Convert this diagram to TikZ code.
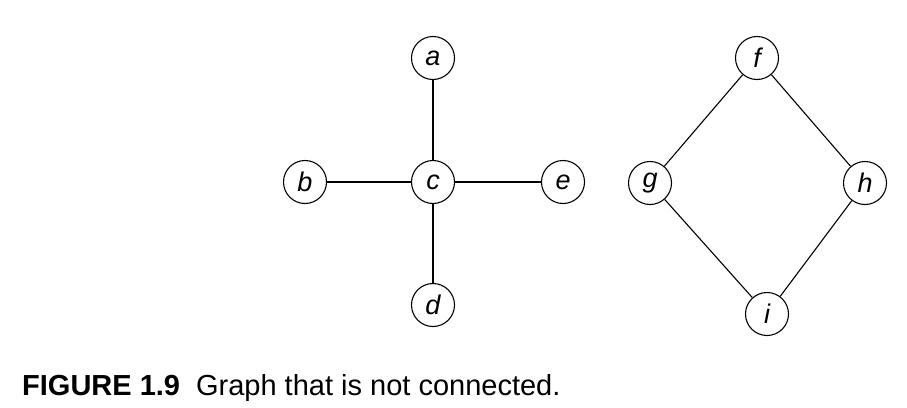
\documentclass[tikz,border=0pt]{standalone}
\usepackage{fontspec}
\setmainfont{Liberation Sans}
\begin{document}
\begin{tikzpicture}[x=1pt,y=-1pt,
  vertex/.style={circle,draw,line width=1.1pt,minimum size=43pt,inner sep=0pt,
    font=\fontsize{27}{27}\selectfont\itshape},
  edge/.style={line width=1.1pt}]
\useasboundingbox (0,0) rectangle (907,407);
\node[vertex] (a) at (433,58) {a};
\node[vertex] (b) at (305,182) {b};
\node[vertex] (c) at (433,182) {c};
\node[vertex] (d) at (433,305) {d};
\node[vertex] (e) at (563,182) {e};
\node[vertex] (f) at (757,58) {f};
\node[vertex] (g) at (650,183) {g};
\node[vertex] (h) at (865,183) {h};
\node[vertex] (i) at (767,314) {i};
\draw[edge] (a) -- (c);
\draw[edge] (b) -- (c);
\draw[edge] (c) -- (e);
\draw[edge] (c) -- (d);
\draw[edge] (f) -- (g);
\draw[edge] (f) -- (h);
\draw[edge] (g) -- (i);
\draw[edge] (h) -- (i);
\node[anchor=base west,inner sep=0pt,font=\fontsize{29}{29}\selectfont] (cap) at (22,395)
  {\textbf{FIGURE 1.9}\hspace{0.55em}Graph that is not connected.};
\end{tikzpicture}
\end{document}
